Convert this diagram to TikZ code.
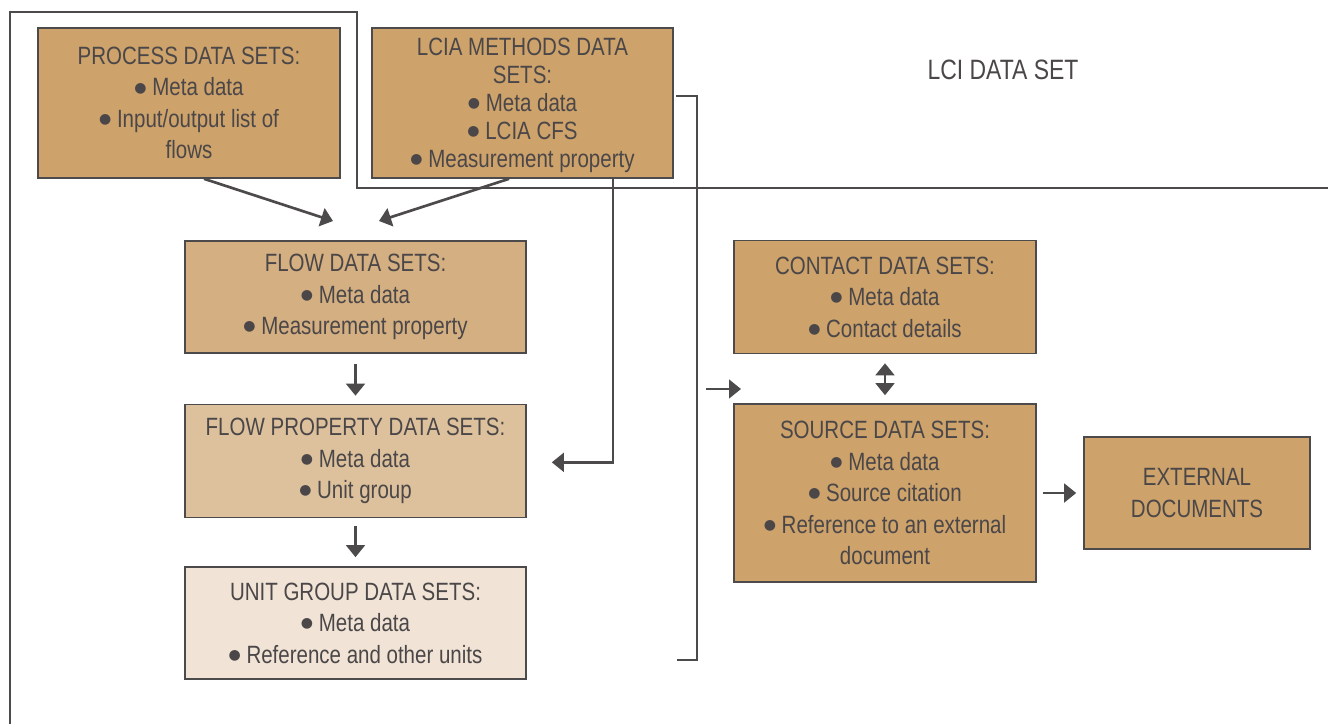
\documentclass[tikz,border=0pt]{standalone}
\usepackage{fontspec}
\setmainfont{Liberation Sans}[FakeStretch=0.82]
\newfontfamily\symfont{DejaVu Sans}
\usetikzlibrary{arrows.meta}
\definecolor{tanA}{HTML}{CDA26B}
\definecolor{tanB}{HTML}{D4AF81}
\definecolor{tanC}{HTML}{DDC19D}
\definecolor{tanD}{HTML}{F1E4D6}
\definecolor{lineC}{HTML}{4D4A4B}
\definecolor{txtC}{HTML}{4B4748}
\newcommand{\bodyfont}{\fontsize{18.75pt}{23.6pt}\selectfont}
\newcommand{\tightfont}{\fontsize{18.75pt}{21pt}\selectfont}
\newcommand{\bul}{\raisebox{2.9pt}{\symfont\fontsize{10.5pt}{10pt}\selectfont ●}}
\tikzset{
  box/.style={draw=lineC, line width=1.2pt, fill=tanA, text=txtC, align=center,
              inner sep=0pt, font=\bodyfont},
  arr/.style={draw=lineC, line width=2pt, -{Triangle[length=9pt,width=14pt]}},
  darr/.style={draw=lineC, line width=2pt, {Triangle[length=9pt,width=14pt]}-{Triangle[length=9pt,width=14pt]}},
  frame/.style={draw=lineC, line width=2.1pt},
}
\begin{document}
\begin{tikzpicture}[x=0.75pt,y=-0.75pt]
\useasboundingbox (0,0) rectangle (1328,724);
% outer LCI data set frame
\draw[frame] (10,724) -- (10,12) -- (357,12) -- (357,188) -- (1328,188);
\node[text=txtC, font=\fontsize{21pt}{24pt}\selectfont] (lci) at (1003,70) {LCI DATA SET};

\node[box, minimum width=226.5pt, minimum height=112.5pt] (proc) at (189,103)
  {PROCESS DATA SETS:\\ \bul{} Meta data\\ \bul{} Input/output list of\\ flows};
\node[box, font=\tightfont, minimum width=225.75pt, minimum height=112.5pt] (lcia) at (522.5,103)
  {\rule{0pt}{17pt}LCIA METHODS DATA\\ SETS:\\ \bul{} Meta data\\ \bul{} LCIA CFS\\ \bul{} Measurement property};

\node[box, fill=tanB, minimum width=255.75pt, minimum height=84pt] (flow) at (355.5,297)
  {FLOW DATA SETS:\\ \bul{} Meta data\\ \bul{} Measurement property};
\node[box, fill=tanC, minimum width=255.75pt, minimum height=84.75pt] (fprop) at (355.5,461)
  {FLOW PROPERTY DATA SETS:\\ \bul{} Meta data\\ \bul{} Unit group};
\node[box, fill=tanD, minimum width=255.75pt, minimum height=84pt] (unit) at (355.5,623)
  {UNIT GROUP DATA SETS:\\ \bul{} Meta data\\ \bul{} Reference and other units};

\node[box, minimum width=226.5pt, minimum height=84.75pt] (contact) at (885,297)
  {CONTACT DATA SETS:\\ \bul{} Meta data\\ \bul{} Contact details};
\node[box, minimum width=226.5pt, minimum height=133.5pt] (source) at (885,493)
  {SOURCE DATA SETS:\\ \bul{} Meta data\\ \bul{} Source citation\\ \bul{} Reference to an external\\ document};
\node[box, minimum width=169.5pt, minimum height=84pt] (ext) at (1197,493)
  {EXTERNAL\\ DOCUMENTS};

% arrows into flow data sets
\coordinate (t1) at (333,221);
\coordinate (t2) at (379,221);
\draw[arr] ([xshift=11.25pt]proc.south) -- (t1);
\draw[arr] ([xshift=-10.1pt]lcia.south) -- (t2);

% vertical chain
\draw[arr, shorten <=7.5pt, shorten >=6pt] (flow.south) -- (fprop.north);
\draw[arr, shorten <=5.5pt, shorten >=6.75pt] (fprop.south) -- (unit.north);

% LCIA -> flow property
\draw[arr] ([xshift=67.9pt]lcia.south) |- ([xshift=18.75pt,yshift=-1pt]fprop.east);

% bracket grouping the left side
\coordinate (bstart) at (676,96);
\coordinate (bend) at (677,660);
\draw[frame, line width=1.8pt] (bstart) -- (697,96) -- (697,660) -- (bend);
\coordinate (ain) at (706,389);
\draw[arr] (ain) -- (741,389);

% contact <-> source
\draw[darr, shorten <=6.75pt, shorten >=6pt] (contact.south) -- (source.north);
% source -> external
\draw[arr, shorten <=4.5pt, shorten >=5.25pt] (source.east) -- (ext.west);
\end{tikzpicture}
\end{document}
